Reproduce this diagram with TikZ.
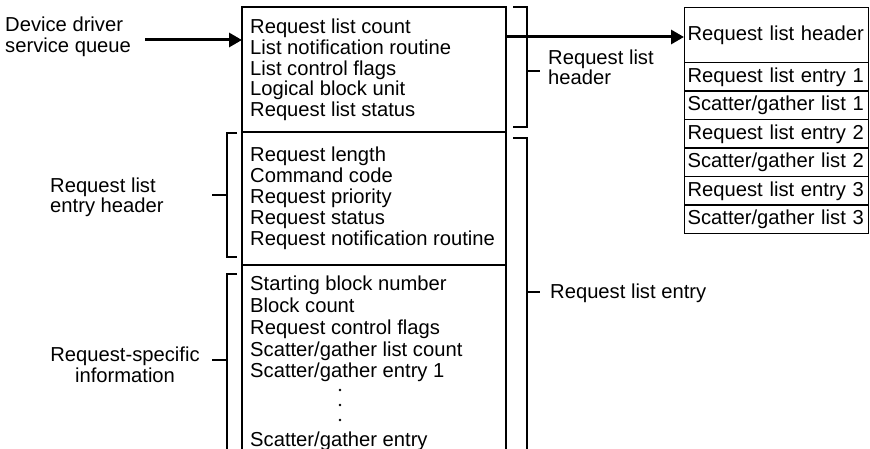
\documentclass[tikz,border=0pt]{standalone}
\usepackage{fontspec}
\setmainfont{Liberation Sans}
\usetikzlibrary{arrows.meta}
\begin{document}
\begin{tikzpicture}[x=1pt,y=-1pt,
  txt/.style={anchor=base west, inner sep=0pt, font=\fontsize{20.2}{21}\selectfont},
  ctxt/.style={anchor=base, inner sep=0pt, font=\fontsize{20.2}{21}\selectfont},
  boxline/.style={line width=1.3pt},
  brk/.style={line width=1.2pt},
  bigarrow/.style={line width=3pt, -{Triangle[length=13pt,width=14pt]}},
  rowbox/.style={draw, line width=1.2pt, minimum width=184pt, inner sep=0pt, anchor=north west,
    text width=178pt, align=left, font=\fontsize{20.2}{21}\selectfont},
  dot/.style={fill, circle, inner sep=0pt, minimum size=2.6pt}
]
\useasboundingbox (0,0) rectangle (870,449);

% main box
\coordinate (mbTL) at (242,7);
\coordinate (mbTR) at (506,7);
\coordinate (mbBL) at (242,449);
\coordinate (mbBR) at (506,449);
\draw[boxline] (mbBL) -- (mbTL) -- (mbTR) -- (mbBR);
\draw[boxline] (242,132) -- (506,132);
\draw[boxline] (242,265) -- (506,265);

% section texts
\foreach \t [count=\i from 0] in {Request list count, List notification routine, List control flags, Logical block unit, Request list status}
  \node[txt] (s1-\i) at (250,33.3+\i*20.9) {\t};
\foreach \t [count=\i from 0] in {Request length, Command code, Request priority, Request status, Request notification routine}
  \node[txt] (s2-\i) at (250,161.7+\i*20.85) {\t};
\foreach \t [count=\i from 0] in {Starting block number, Block count, Request control flags, Scatter/gather list count, Scatter/gather entry 1}
  \node[txt] (s3-\i) at (250,290.7+\i*21.8) {\t};
\node[dot] (d1) at (340,390) {};
\node[dot] (d2) at (340,405) {};
\node[dot] (d3) at (340,420) {};
\node[txt] (s3-last) at (250,446) {Scatter/gather entry};

% left label and arrow
\node[txt] (dd1) at (5,32) {Device driver};
\node[txt] (dd2) at (5,53) {service queue};
\coordinate (a1s) at (145,40);
\coordinate (a1e) at (242,40);
\draw[bigarrow] (a1s) -- (a1e);

% right list box
\node[rowbox, minimum height=55pt] (hdr) at (684,7) {Request list header};
\foreach \t [count=\i from 1] in {Request list entry 1, Scatter/gather list 1, Request list entry 2, Scatter/gather list 2, Request list entry 3, Scatter/gather list 3}
  \node[rowbox, minimum height=28.5pt] (r\i) at (684,62+\i*28.5-28.5) {\t};

\coordinate (a2s) at (506,37);
\draw[bigarrow] (a2s) -- (hdr.west |- a2s);

% right brackets
\draw[brk] (513,7) -- (527,7) -- (527,127) -- (513,127);
\draw[brk] (527,71) -- (540,71);
\node[txt] (rlh1) at (548,65) {Request list};
\node[txt] (rlh2) at (548,85) {header};

\draw[brk] (513,138) -- (527,138) -- (527,449);
\draw[brk] (527,292) -- (540,292);
\node[txt] (rle) at (550,298) {Request list entry};

% left brackets
\draw[brk] (237,133) -- (227,133) -- (227,257) -- (237,257);
\draw[brk] (212,195) -- (227,195);
\node[txt] (rleh1) at (50,193) {Request list};
\node[txt] (rleh2) at (50,213) {entry header};

\draw[brk] (237,274) -- (227,274) -- (227,449);
\draw[brk] (212,360) -- (227,360);
\node[ctxt] (rsi1) at (125,361) {Request-specific};
\node[ctxt] (rsi2) at (125,382) {information};
\end{tikzpicture}
\end{document}
